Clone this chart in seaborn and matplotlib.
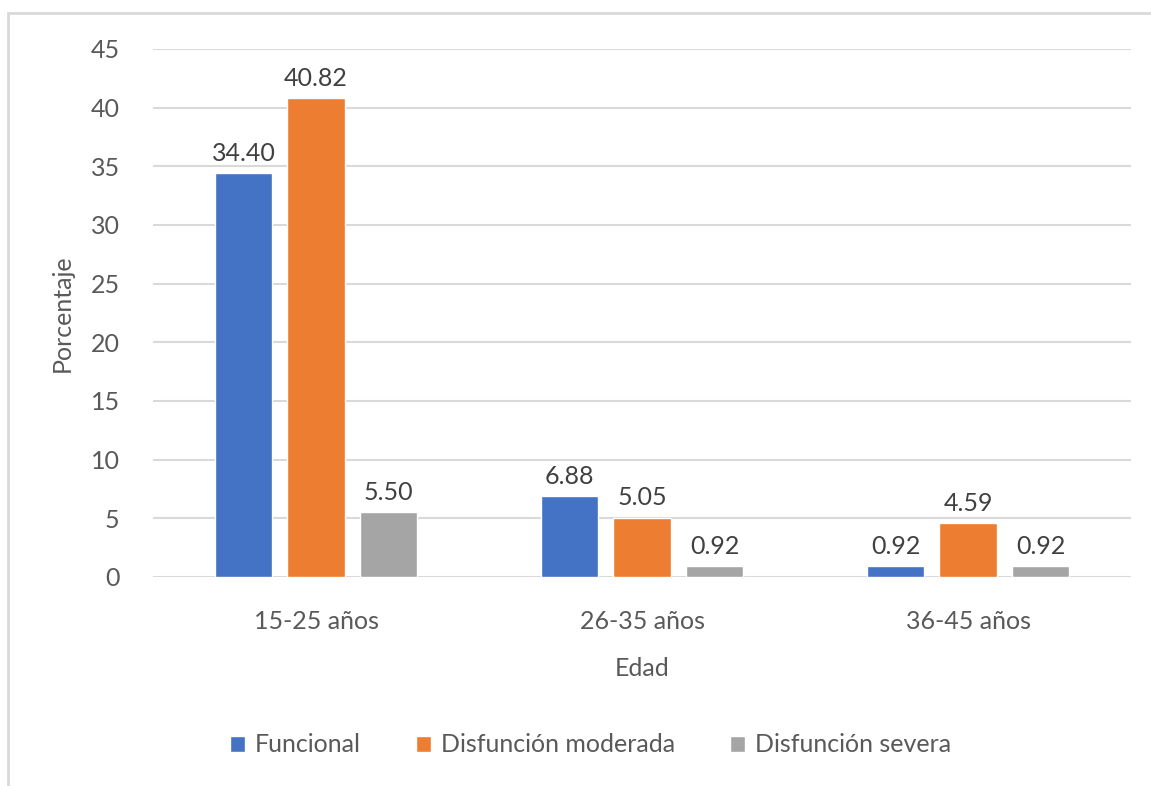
import seaborn as sns
import pandas as pd
import matplotlib.pyplot as plt
from matplotlib.patches import Rectangle

edades = ["15-25 años", "26-35 años", "36-45 años"]
grupos = ["Funcional", "Disfunción moderada", "Disfunción severa"]
funcional = [34.40, 6.88, 0.92]
moderada = [40.82, 5.05, 4.59]
severa = [5.50, 0.92, 0.92]
colores = ["#4472C4", "#ED7D31", "#A5A5A5"]

df = pd.DataFrame({
    "Edad": edades * 3,
    "Grupo": [grupos[0]] * 3 + [grupos[1]] * 3 + [grupos[2]] * 3,
    "Porcentaje": funcional + moderada + severa,
})

sns.set_theme(style="white")
plt.rcParams['font.family'] = ['Lato', 'DejaVu Sans']
gris = "#595959"
fs = 18

fig = plt.figure(figsize=(11.51, 7.86), dpi=100)
ax = fig.add_axes([153/1151, 1-577/786, (1131-153)/1151, (577-49)/786])

sns.barplot(data=df, x="Edad", y="Porcentaje", hue="Grupo", palette=colores,
            width=0.667, gap=0.21, ax=ax, legend=True, saturation=1, errorbar=None)

for cont in ax.containers:
    labels = [f"{v:.2f}" for v in cont.datavalues]
    ax.bar_label(cont, labels=labels, padding=6, fontsize=fs, color="#404040")

ax.set_ylim(0, 45)
ax.set_yticks(range(0, 46, 5))
ax.yaxis.grid(True, color="#d9d9d9", linewidth=1.5)
ax.set_axisbelow(True)
for s in ax.spines.values():
    s.set_visible(False)
ax.tick_params(axis="y", length=0, pad=24, labelsize=fs, labelcolor=gris)
ax.tick_params(axis="x", length=0, pad=24, labelsize=fs, labelcolor=gris)
ax.set_ylabel("Porcentaje", fontsize=fs, color=gris, labelpad=12)
ax.set_xlabel("Edad", fontsize=fs, color=gris, labelpad=17)

ax.legend_.remove()
leg = fig.legend(*ax.get_legend_handles_labels(), loc="center", ncol=3,
                 bbox_to_anchor=(0.513, 1-745/786), frameon=False, fontsize=fs,
                 handlelength=0.6, handleheight=0.6, handletextpad=0.4, columnspacing=2.2)
for t in leg.get_texts():
    t.set_color(gris)

fig.patches.append(Rectangle((8/1151, -0.1), 1.2, 1-13/786+0.1, transform=fig.transFigure,
                             fill=False, edgecolor="#d9d9d9", linewidth=2))

fig.savefig("out.png", dpi=100)
